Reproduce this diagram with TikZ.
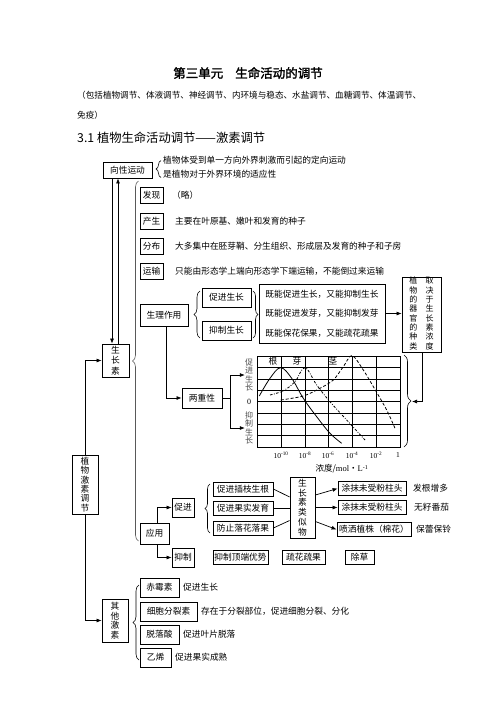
\documentclass[tikz,border=0pt]{standalone}
\usepackage{fontspec}
\setmainfont{Liberation Serif}
\newfontfamily\cjk{Noto Sans CJK SC}
\newfontfamily\cjkbold{Noto Sans CJK SC}[FakeBold=2]
\usetikzlibrary{arrows.meta,decorations.pathreplacing,calc}
\tikzset{
  bx/.style={draw, line width=0.8pt, inner sep=0pt, font=\cjk\fontsize{8.7}{10.5}\selectfont},
  tx/.style={anchor=west, inner sep=0pt, font=\cjk\fontsize{8.7}{10.5}\selectfont},
  ln/.style={line width=0.7pt},
  arr/.style={line width=0.7pt, -{Latex[length=5pt,width=4pt]}},
  brc/.style={decorate, decoration={brace, amplitude=#1}, line width=0.6pt},
  brc/.default=5pt,
  vt/.style={align=center, font=\cjk\fontsize{8.7}{#1}\selectfont},
  gl/.style={line width=0.5pt},
}
\begin{document}
\begin{tikzpicture}[x=1pt,y=-1pt]
\fill[white] (0,0) rectangle (496,702);
\useasboundingbox (0,0) rectangle (496,702);

% headings
\node[font=\cjkbold\fontsize{12.5}{14}\selectfont] (title) at (248,73) {第三单元\hspace{12pt}生命活动的调节};
\node[tx, font=\cjk\fontsize{8.6}{10}\selectfont] (sub1) at (77,95) {（包括植物调节、体液调节、神经调节、内环境与稳态、水盐调节、血糖调节、体温调节、};
\node[tx, font=\cjk\fontsize{8.6}{10}\selectfont] (sub2) at (77,115) {免疫）};
\node[tx, font=\cjk\fontsize{12.3}{14}\selectfont] (head) at (77,138) {3.1 植物生命活动调节——激素调节};

% tropism
\node[bx, minimum width=49pt, minimum height=16pt] (xx) at (127.5,170) {向性运动};
\draw[brc=5pt] (161,177.5) -- (161,160.5);
\node[tx] (xt1) at (163,160) {植物体受到单一方向外界刺激而引起的定向运动};
\node[tx] (xt2) at (163,174.5) {是植物对于外界环境的适应性};

% auxin items
\node[bx, minimum width=23pt, minimum height=16pt] (fx) at (151.5,195) {发现};
\node[tx] (fxt) at (172,195) {（略）};
\node[bx, minimum width=23pt, minimum height=16pt] (cs) at (151.5,221) {产生};
\node[tx] (cst) at (175,221) {主要在叶原基、嫩叶和发育的种子};
\node[bx, minimum width=23pt, minimum height=16pt] (fb) at (151.5,246) {分布};
\node[tx] (fbt) at (175,246) {大多集中在胚芽鞘、分生组织、形成层及发育的种子和子房};
\node[bx, minimum width=23pt, minimum height=16pt] (ys) at (151.5,271) {运输};
\node[tx] (yst) at (175,271) {只能由形态学上端向形态学下端运输，不能倒过来运输};

% physiological action
\node[bx, minimum width=48pt, minimum height=22pt] (slzy) at (164,315) {生理作用};
\draw[brc=6pt] (200,338) -- (200,291);
\node[bx, minimum width=49pt, minimum height=19pt] (cjsz) at (226.5,297.5) {促进生长};
\node[bx, minimum width=49pt, minimum height=19pt] (yzsz) at (226.5,330.5) {抑制生长};
\draw[brc=5pt] (253,291) -- (253,338);
\node[bx, minimum width=126pt, minimum height=59pt, align=left, font=\cjk\fontsize{8.7}{19.3}\selectfont] (big) at (322,313.5) {既能促进生长，又能抑制生长\\既能促进发芽，又能抑制发芽\\既能保花保果，又能疏花疏果};
\node[bx, minimum width=39pt, minimum height=75pt, font=\cjk\fontsize{8}{8.7}\selectfont] (qj) at (421.5,314.5)
  {\begin{tabular}{@{}c@{\hspace{8.5pt}}c@{}}植&取\\物&决\\的&于\\器&生\\官&长\\的&素\\种&浓\\类&度\end{tabular}};
\draw[arr] (big.east) -- (big.east -| qj.west);

% main hubs
\node[bx, minimum width=27pt, minimum height=33pt, vt=10.5] (szs) at (115.5,360.5) {生\\长\\素};
\node[bx, minimum width=26pt, minimum height=59pt, vt=9.4] (zwjs) at (85,484.5) {植\\物\\激\\素\\调\\节};
\node[bx, minimum width=26pt, minimum height=43pt, vt=9.5] (qtjs) at (115,620.5) {其\\他\\激\\素};
\draw[brc=6pt, draw=black!65] (138.5,541) -- (138.5,181);

\draw[arr] (zwjs.north) |- (szs.west);
\draw[arr] (zwjs.south) |- (qtjs.west);
\draw[arr] ([xshift=-3.5pt]szs.north |- xx.south) -- ([xshift=-3.5pt]szs.north);
\draw[arr] ([xshift=2.5pt]szs.north) -- ([xshift=2.5pt]szs.north |- xx.south);

% duality and graph
\node[bx, minimum width=40pt, minimum height=20pt] (lcx) at (202,398) {两重性};
\draw[arr] ([xshift=2pt]slzy.south) |- (lcx.west);

\draw[line width=0.7pt] (257,356) rectangle (400,447);
\foreach \x in {281,305,328,352,376} \draw[gl] (\x,356) -- (\x,447);
\foreach \y in {367.4,378.8,390.1,401.5,412.9,424.3,435.6} \draw[gl] (257,\y) -- (400,\y);
\draw[line width=0.8pt] plot[smooth, tension=0.6] coordinates {(259.3,396) (270,378.3) (280.7,367.7) (291.7,378.3) (303.3,398.3) (316.7,416.7) (330,433.3) (341.7,443.3)};
\draw[line width=0.8pt, dash pattern=on 2.5pt off 1.5pt on 0.8pt off 1.5pt] plot[smooth, tension=0.6] coordinates {(270,395) (283.3,390.7) (295,381.7) (305,367.7) (316.7,385) (330,401.7) (346.7,420) (365,440)};
\draw[line width=0.8pt, dash pattern=on 3pt off 2pt] plot[smooth, tension=0.5] coordinates {(280.7,400) (303.3,396) (320,388.3) (333.3,380) (343.3,366.7) (352,355.5) (363.3,370) (375.3,390) (386.7,410) (395,428.3)};
\node[font=\cjk\fontsize{8.7}{10}\selectfont, inner sep=0pt] (lg) at (273,361.5) {根};
\node[font=\cjk\fontsize{8.7}{10}\selectfont, inner sep=0pt] (lb) at (297,361.5) {芽};
\node[font=\cjk\fontsize{8.7}{10}\selectfont, inner sep=0pt] (ls) at (333,361.5) {茎};
\node[inner sep=0pt, text=black!70, align=center, font=\cjk\fontsize{8}{8.5}\selectfont] (sp) at (249,375) {促\\进\\生\\长};
\node[inner sep=0pt, font=\fontsize{8}{9}\selectfont] (s0) at (249,401.5) {0};
\node[inner sep=0pt, text=black!70, align=center, font=\cjk\fontsize{8}{8.5}\selectfont] (sn) at (249,428) {抑\\制\\生\\长};
\draw[arr] (lcx.east) -- ++(8,0) |- (sp.west);
\draw[arr] (lcx.east) -- ++(8,0) |- (sn.west);
\foreach \x/\t [count=\i] in {281/10\textsuperscript{-10},305/10\textsuperscript{-8},328/10\textsuperscript{-6},352/10\textsuperscript{-4},376/10\textsuperscript{-2},398/1}
  \node[font=\fontsize{7.5}{9}\selectfont] (xl\i) at (\x,455) {\t};
\node[font=\cjk\fontsize{8.5}{10}\selectfont] (unit) at (342,469) {浓度/{\rmfamily mol}・{\rmfamily L}\textsuperscript{\rmfamily -1}};
\draw[brc=7pt] (404,355) -- (404,447);
\coordinate (gbt) at (412,401.5);
\draw[arr] ([xshift=1.2pt]qj.south) |- (gbt);

% application
\node[bx, minimum width=29pt, minimum height=21pt] (yy) at (154.5,533.5) {应用};
\node[bx, minimum width=22pt, minimum height=19pt] (cj) at (183,507.5) {促进};
\node[bx, minimum width=22pt, minimum height=19pt] (yz) at (183,557.5) {抑制};
\draw[arr] ([xshift=3pt]yy.north) |- (cj.west);
\draw[arr] ([xshift=3pt]yy.south) |- (yz.west);
\draw[brc=5pt] (210,533) -- (210,484);
\node[bx, minimum width=60pt, minimum height=14pt] (a1) at (243,489) {促进插枝生根};
\node[bx, minimum width=60pt, minimum height=14pt] (a2) at (243,508.3) {促进果实发育};
\node[bx, minimum width=60pt, minimum height=14pt] (a3) at (243,528) {防止落花落果};
\node[bx, minimum width=25pt, minimum height=61pt, vt=9.8] (lsw) at (302.5,507.5) {生\\长\\素\\类\\似\\物};
\draw[ln] (a1.east) -- ([yshift=10.5pt]lsw.west);
\draw[ln] (a2.east) -- (a2.east -| lsw.west);
\draw[ln] (a3.east) -- ([yshift=-13pt]lsw.west);
\node[bx, minimum width=68pt, minimum height=13.5pt] (b1) at (372,488.5) {涂抹未受粉柱头};
\node[bx, minimum width=68pt, minimum height=13.5pt] (b2) at (372,507.5) {涂抹未受粉柱头};
\node[bx, minimum width=74pt, minimum height=13.5pt] (b3) at (374,529.5) {喷洒植株（棉花）};
\draw[arr] ([yshift=12.5pt]lsw.east) -- (b1.west);
\draw[arr] (lsw.east |- b2.west) -- (b2.west);
\draw[arr] ([yshift=-14pt]lsw.east) -- (b3.west);
\node[tx] (bt1) at (413,488.5) {发根增多};
\node[tx] (bt2) at (414,507.5) {无籽番茄};
\node[tx] (bt3) at (416,529.5) {保蕾保铃};
\node[bx, minimum width=55pt, minimum height=14pt] (c1) at (240.5,557) {抑制顶端优势};
\node[bx, minimum width=43pt, minimum height=14pt] (c2) at (303.5,557) {疏花疏果};
\node[bx, minimum width=29pt, minimum height=14pt] (c3) at (359.5,557) {除草};

% other hormones
\draw[brc=6pt] (139,660) -- (139,585);
\node[bx, minimum width=39pt, minimum height=19pt] (h1) at (159.5,587.5) {赤霉素};
\node[tx] (ht1) at (183,587.5) {促进生长};
\node[bx, minimum width=57pt, minimum height=19pt] (h2) at (168.5,611.5) {细胞分裂素};
\node[tx] (ht2) at (201,611.5) {存在于分裂部位，促进细胞分裂、分化};
\node[bx, minimum width=39pt, minimum height=19pt] (h3) at (159.5,634.5) {脱落酸};
\node[tx] (ht3) at (183,634.5) {促进叶片脱落};
\node[bx, minimum width=31pt, minimum height=19pt] (h4) at (155.5,657.5) {乙烯};
\node[tx] (ht4) at (175,657.5) {促进果实成熟};
\end{tikzpicture}
\end{document}
